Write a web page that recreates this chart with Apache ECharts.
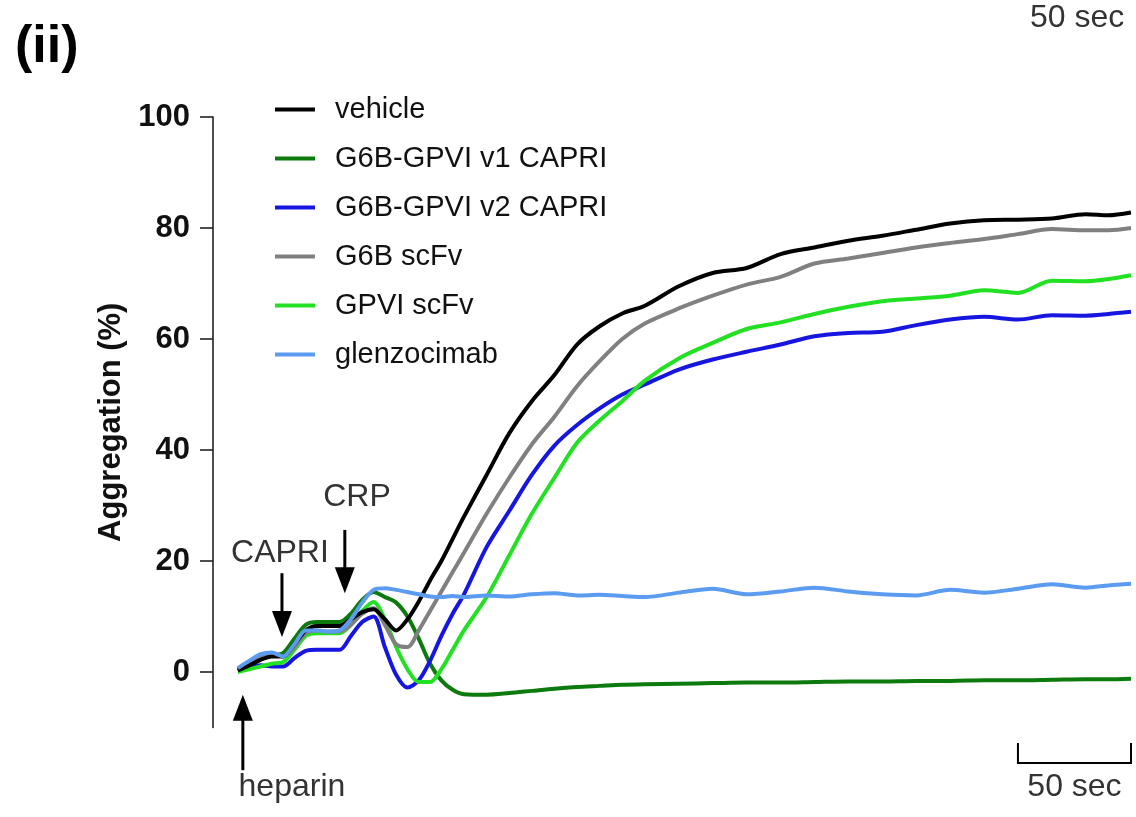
<!DOCTYPE html>
<html><head><meta charset="utf-8">
<script src="https://cdn.jsdelivr.net/npm/echarts@6/dist/echarts.min.js"></script>
<style>html,body{margin:0;padding:0;background:#fff}#c{width:1136px;height:817px}</style>
</head><body><div id="c"></div>
<script>
// time in seconds (t = 0 at first trace point)
const time = [0,5,10,15,20,25,30,35,40,45,50,55,60,65,70,75,80,85,90,95,100,110,120,130,140,150,160,170,180,195,210,225,240,255,270,285,300,315,330,345,360,375,385,395];
const seriesNames = ['vehicle','G6B-GPVI v1 CAPRI','G6B-GPVI v2 CAPRI','G6B scFv','GPVI scFv','glenzocimab'];
const vehicle = [0.3,1.2,2.2,2.8,2.8,5,7.5,8.3,8.3,8.3,9.5,10.8,11.3,9.5,7.5,9.5,12.7,16.5,20,24,28,35.5,43,48.8,53.5,59,62.3,64.6,66,69.5,71.9,72.8,75.3,76.5,77.7,78.6,79.7,80.8,81.4,81.5,81.7,82.5,82.3,82.8];
const v1Capri = [0.3,1.2,2.2,3,3.4,6,8.5,9,9,9,10.5,13,14.4,13.5,12.5,10,6,1.5,-1.5,-3.2,-4,-4.1,-3.8,-3.4,-3,-2.7,-2.5,-2.3,-2.2,-2.1,-2,-1.9,-1.9,-1.8,-1.7,-1.7,-1.6,-1.6,-1.5,-1.5,-1.4,-1.3,-1.3,-1.2];
const v2Capri = [0.3,0.8,1.2,1,1,2.5,3.8,4,4,4,6.5,9,10,4.5,-0.5,-2.8,-1.5,2,6.5,10.5,14,22.5,29,35.5,40.8,44.5,47.5,50,51.8,54.5,56.3,57.7,59,60.5,61.1,61.3,62.5,63.5,64,63.5,64.3,64.2,64.5,64.9];
const g6bScFv = [0.5,1.8,2.8,3.2,2.8,4.5,7,7.5,7.3,7.3,8.5,10.5,11.5,8.5,5,4.5,7.5,11,14.5,18,21.5,28.5,35,41,46,51.5,56,60,62.8,65.5,67.8,69.8,71.2,73.6,74.5,75.5,76.5,77.3,78,78.9,79.8,79.6,79.6,80];
const gpviScFv = [0,0.5,1,1.5,1.8,4,6.5,7,7,7,8.5,11,12.6,9.5,4.5,0.5,-1.8,-1.8,0.5,4,7.5,13.5,21,28.5,35,41.3,45.3,48.8,52.5,56.5,59.3,61.8,63,64.5,65.8,66.8,67.3,67.8,68.8,68.3,70.5,70.4,70.8,71.5];
const glenzocimab = [0.7,2,3.2,3.5,2.8,5,7.5,7.5,7.3,7.5,9.5,12.5,14.8,15.1,14.8,14.4,14,13.6,13.5,13.7,13.5,13.8,13.6,14,14.2,13.8,13.9,13.7,13.5,14.3,15,14,14.5,15.2,14.5,14,13.8,14.8,14.3,15,15.8,15.2,15.6,15.9];
const yTicks = [0,20,40,60,80,100];

// annotations (data coordinates: seconds, %)
const notes = [
  {label:'CAPRI', tx:18.6, tv:21.4, ax:19.5, from:17.8, to:6.3},
  {label:'CRP', tx:52.7, tv:31.5, ax:47.3, from:25.6, to:14.2},
  {label:'heparin', tx:23.9, tv:-20.7, ax:2.2, from:-17.7, to:-4.1}
];
const scaleBar = {from:345, to:395, v:-16.4, top:-12.8, label:'50 sec', labelV:-20.7};

const FONT = '"Liberation Sans", Arial, Helvetica, sans-serif';
const colors = ['#000000','#0c7a0c','#1616e0','#808080','#22e022','#5b9cf0'];
const values = [vehicle, v1Capri, v2Capri, g6bScFv, gpviScFv, glenzocimab];
const drawOrder = [1,2,4,3,0,5];

const chart = echarts.init(document.getElementById('c'));
const series = drawOrder.map((k, i) => ({
  name: seriesNames[k], type: 'line', smooth: 0.3, symbol: 'none', z: 2 + i,
  data: time.map((t, j) => [t, values[k][j]]),
  lineStyle: {color: colors[k], width: 4}, itemStyle: {color: colors[k]}
}));

chart.setOption({
  animation: false,
  textStyle: {fontFamily: FONT},
  grid: {left: 213, right: 5, top: 117, bottom: 89.5},
  xAxis: {type: 'value', min: -11, max: 395, show: false},
  yAxis: {
    type: 'value', min: -10, max: 100,
    axisLine: {show: true, onZero: false, lineStyle: {color: '#222', width: 1.6}},
    axisTick: {show: true, inside: false, length: 13, customValues: yTicks, lineStyle: {color: '#222', width: 1.6}},
    axisLabel: {customValues: yTicks, fontWeight: 'bold', fontSize: 31, color: '#111', margin: 23, fontFamily: FONT},
    splitLine: {show: false},
    name: 'Aggregation (%)', nameLocation: 'middle', nameGap: 80,
    nameTextStyle: {fontWeight: 'bold', fontSize: 31, color: '#111', fontFamily: FONT}
  },
  legend: {
    orient: 'vertical', left: 270, top: 90, itemWidth: 40, itemHeight: 4, itemGap: 20, icon: 'rect',
    data: seriesNames,
    textStyle: {fontSize: 29, color: '#111', fontFamily: FONT, padding: [0, 0, 0, 15]}
  },
  series: series
});

const px = (t, v) => chart.convertToPixel({gridIndex: 0}, [t, v]);
const g = [];
g.push({type: 'text', left: 15, top: 22, style: {text: '(ii)', font: 'bold 52px ' + FONT, fill: '#000'}});
g.push({type: 'text', left: 1030, top: 2, style: {text: '50 sec', font: '32px ' + FONT, fill: '#333'}});
notes.forEach(n => {
  const tp = px(n.tx, n.tv);
  g.push({type: 'text', x: tp[0], y: tp[1], style: {text: n.label, font: '32px ' + FONT, fill: '#333', align: 'center', verticalAlign: 'middle'}});
  const a = px(n.ax, n.from), b = px(n.ax, n.to);
  const dir = b[1] > a[1] ? 1 : -1;
  const headLen = 26, headW = 10;
  g.push({type: 'line', shape: {x1: a[0], y1: a[1], x2: b[0], y2: b[1] - dir * (headLen - 2)}, style: {stroke: '#000', lineWidth: 3}});
  g.push({type: 'polygon', shape: {points: [[b[0] - headW, b[1] - dir * headLen], [b[0] + headW, b[1] - dir * headLen], [b[0], b[1]]]}, style: {fill: '#000'}});
});
const s1 = px(scaleBar.from, scaleBar.v), s2 = px(scaleBar.to, scaleBar.v), st = px(scaleBar.from, scaleBar.top);
g.push({type: 'polyline', shape: {points: [[s1[0], st[1]], [s1[0], s1[1]], [s2[0], s2[1]], [s2[0], st[1]]]}, style: {stroke: '#000', lineWidth: 2, fill: null}});
const sl = px((scaleBar.from + scaleBar.to) / 2, scaleBar.labelV);
g.push({type: 'text', x: sl[0], y: sl[1], style: {text: scaleBar.label, font: '32px ' + FONT, fill: '#333', align: 'center', verticalAlign: 'middle'}});
chart.setOption({graphic: g});
</script>
</body></html>
